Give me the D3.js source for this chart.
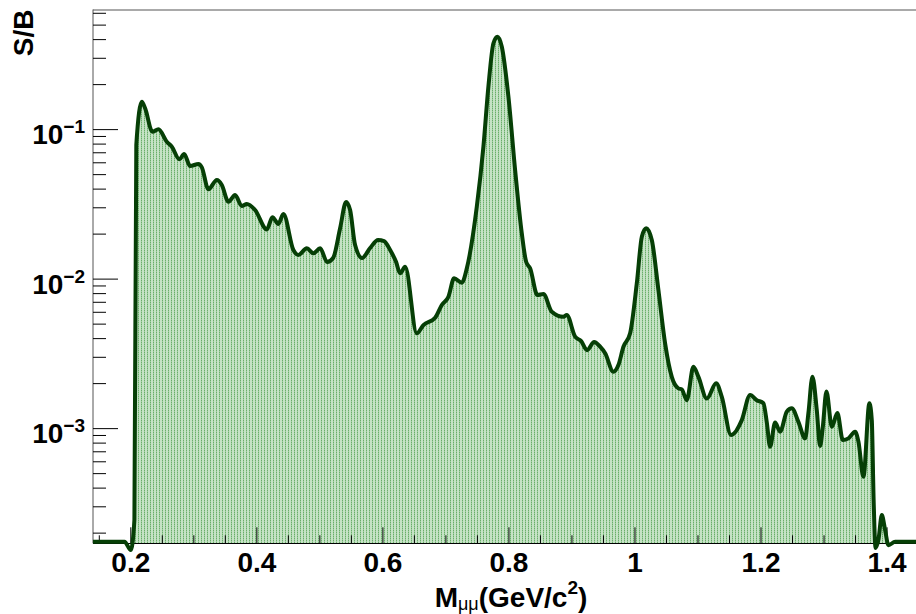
<!DOCTYPE html>
<html>
<head>
<meta charset="utf-8">
<script src="https://cdn.jsdelivr.net/npm/d3@7"></script>
<style>
  html, body { margin: 0; padding: 0; background: #fff; }
  svg { display: block; }
  text { font-family: "Liberation Sans", Arial, Helvetica, sans-serif; }
</style>
</head>
<body>
<svg id="chart" width="916" height="614"></svg>
<script>
// Dimuon invariant mass (GeV/c^2) and signal-over-background ratio
const mass = [
  0.140, 0.150, 0.160, 0.170, 0.180, 0.190, 0.200, 0.2057, 0.2087, 0.2175,
  0.2227, 0.2343, 0.2438, 0.2571, 0.2651, 0.2771, 0.2846, 0.2941, 0.3073, 0.3127,
  0.3231, 0.3365, 0.3444, 0.3549, 0.3655, 0.3761, 0.3841, 0.3972, 0.4158, 0.4247,
  0.4342, 0.4421, 0.4580, 0.4659, 0.4793, 0.4897, 0.5004, 0.5115, 0.5210, 0.5322,
  0.5416, 0.5480, 0.5559, 0.5670, 0.5797, 0.5924, 0.6019, 0.6115, 0.6210, 0.6273,
  0.6353, 0.6538, 0.6643, 0.6829, 0.6935, 0.7040, 0.7130, 0.7252, 0.7332, 0.7490,
  0.7595, 0.7674, 0.7754, 0.7817, 0.7887, 0.7992, 0.8098, 0.8204, 0.8273, 0.8336,
  0.8452, 0.8547, 0.8680, 0.8864, 0.8918, 0.9050, 0.9146, 0.9241, 0.9352, 0.9447,
  0.9527, 0.9658, 0.9737, 0.9817, 0.9923, 1.0029, 1.0109, 1.0177, 1.0267, 1.0372,
  1.0478, 1.0584, 1.0689, 1.0743, 1.0822, 1.0927, 1.1007, 1.1140, 1.1288, 1.1378,
  1.1525, 1.1695, 1.1827, 1.1933, 1.2038, 1.2092, 1.2144, 1.2224, 1.2303, 1.2409,
  1.2489, 1.2593, 1.2700, 1.2752, 1.2816, 1.2885, 1.2938, 1.2981, 1.3038, 1.3124,
  1.3212, 1.3298, 1.3387, 1.3493, 1.3546, 1.3625, 1.3720, 1.3758, 1.3787, 1.3818,
  1.3863, 1.3917, 1.3969, 1.4022, 1.4128, 1.4300, 1.4460
];
const ratio = [
  1.75e-4, 1.75e-4, 1.75e-4, 1.75e-4, 1.75e-4, 1.75e-4, 1.54e-4, 2.45e-4, 0.0789, 0.1537,
  0.1389, 0.0968, 0.1005, 0.0830, 0.0768, 0.0633, 0.0687, 0.0571, 0.0589, 0.0559,
  0.0399, 0.0460, 0.0426, 0.0329, 0.0365, 0.0308, 0.0318, 0.0290, 0.0215, 0.0259,
  0.0234, 0.0273, 0.01565, 0.0145, 0.01607, 0.01488, 0.01607, 0.0130, 0.01384, 0.0220,
  0.0328, 0.0290, 0.0169, 0.01384, 0.01614, 0.01826, 0.01798, 0.01565, 0.0130, 0.01093,
  0.01210, 0.00434, 0.00493, 0.00552, 0.00671, 0.00763, 0.01012, 0.00946, 0.01181, 0.0305,
  0.0768, 0.1936, 0.378, 0.418, 0.3585, 0.166, 0.0537, 0.02024, 0.01307, 0.01181,
  0.00783, 0.00795, 0.00605, 0.00560, 0.00575, 0.00412, 0.00385, 0.00335, 0.00380, 0.00353,
  0.00319, 0.00240, 0.00266, 0.00353, 0.00434, 0.00937, 0.0192, 0.0219, 0.01826, 0.00845,
  0.00372, 0.00222, 0.00186, 0.00183, 0.00155, 0.00259, 0.00222, 0.00159, 0.00201, 0.00163,
  0.000906, 0.00114, 0.00168, 0.00155, 0.00148, 0.00110, 0.000757, 0.00110, 0.000954, 0.00130,
  0.00137, 0.00111, 0.000861, 0.00127, 0.00222, 0.00133, 0.000765, 0.00103, 0.00177, 0.00103,
  0.00127, 0.000839, 0.000861, 0.000954, 0.000818, 0.000477, 0.00148, 0.00114, 0.000333, 1.59e-4,
  1.80e-4, 2.64e-4, 2.10e-4, 1.66e-4, 1.75e-4, 1.75e-4, 1.75e-4
];

const xTickValues = [0.2, 0.4, 0.6, 0.8, 1.0, 1.2, 1.4];
const xTickLabels = ["0.2", "0.4", "0.6", "0.8", "1", "1.2", "1.4"];
const yTickExponents = [-1, -2, -3];

const xDomain = [0.14, 1.46];
const yDomain = [1.71e-4, 0.636];

const svg = d3.select("#chart");
const frameLeft = 93, frameTop = 9.5, frameBottom = 543.3;
const pxPerGeV = 630.2;

const x = d3.scaleLinear().domain(xDomain)
  .range([frameLeft, frameLeft + (xDomain[1] - xDomain[0]) * pxPerGeV]);
const y = d3.scaleLog().domain(yDomain).range([frameBottom, frameTop]);

const points = mass.map((m, i) => [m, ratio[i]]);

// fill pattern: pale green with thin vertical stripes
const defs = svg.append("defs");
const pat = defs.append("pattern")
  .attr("id", "greenFill").attr("patternUnits", "userSpaceOnUse")
  .attr("width", 3).attr("height", 2);
pat.append("rect").attr("x", 0).attr("y", 0).attr("width", 3).attr("height", 2).attr("fill", "#c6e3c6");
pat.append("rect").attr("x", 0).attr("y", 0).attr("width", 1).attr("height", 1).attr("fill", "#6aae6a");
pat.append("rect").attr("x", 0).attr("y", 1).attr("width", 1).attr("height", 1).attr("fill", "#9ccc9c");

defs.append("clipPath").attr("id", "frameClip")
  .append("rect").attr("x", frameLeft).attr("y", frameTop)
  .attr("width", 916 - frameLeft).attr("height", frameBottom - frameTop);

const curve = d3.curveMonotoneX;

const area = d3.area()
  .x(d => x(d[0]))
  .y0(frameBottom)
  .y1(d => y(d[1]))
  .curve(curve);

const line = d3.line()
  .x(d => x(d[0]))
  .y(d => y(d[1]))
  .curve(curve);

svg.append("path")
  .datum(points)
  .attr("d", area)
  .attr("fill", "url(#greenFill)")
  .attr("clip-path", "url(#frameClip)");

// axes frame
const axisG = svg.append("g").attr("stroke", "#000").attr("stroke-width", 1).attr("fill", "none");
axisG.append("line").attr("x1", frameLeft).attr("x2", frameLeft)
  .attr("y1", frameTop).attr("y2", frameBottom).attr("stroke", "#555");
axisG.append("line").attr("x1", frameLeft).attr("x2", 916)
  .attr("y1", 10).attr("y2", 10).attr("stroke", "#555");
axisG.append("line").attr("x1", frameLeft).attr("x2", 916)
  .attr("y1", 543.5).attr("y2", 543.5);

// y ticks (log): decades long, 2..9 short
const yTicks = [];
for (let e = -4; e <= 0; e++) {
  for (let k = 1; k <= 9; k++) {
    const v = k * Math.pow(10, e);
    if (v >= yDomain[0] && v <= yDomain[1]) yTicks.push({ v, major: k === 1 });
  }
}
axisG.selectAll(".ytick").data(yTicks).join("line")
  .attr("class", "ytick")
  .attr("x1", frameLeft).attr("x2", d => frameLeft + (d.major ? 25 : 13))
  .attr("y1", d => y(d.v)).attr("y2", d => y(d.v));

// x ticks every 0.05, labelled every 0.2
const xTicks = d3.range(0.15, 1.46, 0.05).map(v => +v.toFixed(2));
axisG.selectAll(".xtick").data(xTicks).join("line")
  .attr("class", "xtick")
  .attr("x1", d => x(d)).attr("x2", d => x(d))
  .attr("y1", frameBottom)
  .attr("y2", d => frameBottom - (xTickValues.some(t => Math.abs(t - d) < 1e-6) ? 16 : 8));

// curve outline
svg.append("path")
  .datum(points)
  .attr("d", line)
  .attr("fill", "none")
  .attr("stroke", "#063f06")
  .attr("stroke-width", 4)
  .attr("stroke-linejoin", "round");

// y tick labels
const yLab = svg.append("g").attr("font-weight", "bold").attr("fill", "#000");
yTickExponents.forEach(e => {
  const t = yLab.append("text")
    .attr("x", 85).attr("y", y(Math.pow(10, e)) + 14.5)
    .attr("text-anchor", "end").attr("font-size", 28);
  t.append("tspan").text("10");
  t.append("tspan").attr("dy", -11).attr("font-size", 19).text("\u2212" + Math.abs(e));
});

// x tick labels
svg.append("g").selectAll("text").data(xTickValues).join("text")
  .attr("x", d => x(d)).attr("y", 571.7)
  .attr("text-anchor", "middle").attr("font-size", 28).attr("font-weight", "bold")
  .text((d, i) => xTickLabels[i]);

// axis titles
svg.append("text")
  .attr("transform", "translate(33,9.5) rotate(-90)")
  .attr("text-anchor", "end").attr("font-size", 28).attr("font-weight", "bold")
  .text("S/B");

const xt = svg.append("text")
  .attr("x", 511).attr("y", 606.5)
  .attr("text-anchor", "middle").attr("font-size", 28).attr("font-weight", "bold");
xt.append("tspan").text("M");
xt.append("tspan").attr("dy", 3).attr("font-size", 18).attr("font-weight", "normal").text("\u03bc\u03bc");
xt.append("tspan").attr("dy", -3).text("(GeV/c");
xt.append("tspan").attr("dy", -13).attr("font-size", 19).text("2");
xt.append("tspan").attr("dy", 13).text(")");
</script>
</body>
</html>
